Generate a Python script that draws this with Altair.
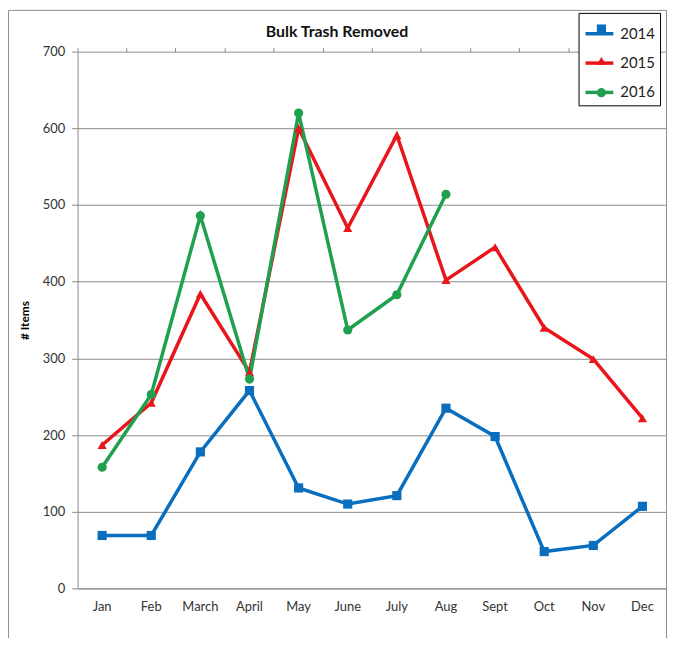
import altair as alt
import pandas as pd

months = ["Jan", "Feb", "March", "April", "May", "June", "July", "Aug", "Sept", "Oct", "Nov", "Dec"]
v2014 = [69, 69, 178, 258, 131, 110, 121, 235, 198, 48, 56, 107]
v2015 = [187, 242, 384, 282, 600, 470, 591, 402, 445, 340, 299, 222]
v2016 = [158, 253, 486, 273, 620, 337, 383, 514]
years = ["2014", "2015", "2016"]
colors = ["#0A6EBE", "#E8161B", "#1FA04E"]
shapes = ["square", "triangle-up", "circle"]
title_text = "Bulk Trash Removed"

rows = []
for yr, vals in zip(years, [v2014, v2015, v2016]):
    for m, v in zip(months, vals):
        rows.append({"month": m, "year": yr, "value": v})
df = pd.DataFrame(rows)

FONT = "Lato"
W, H = 593, 540

xscale = alt.Scale(type="band", domain=months, paddingInner=0, paddingOuter=0)
yenc = alt.Y("value:Q", scale=alt.Scale(domain=[0, 700]),
             axis=alt.Axis(values=[0, 100, 200, 300, 400, 500, 600, 700], title="# Items",
                           titleFontWeight="bold", titleFontSize=12, titleX=-53, titleY=270,
                           titleAngle=270, titleAlign="center", titleBaseline="middle",
                           labelFontSize=13, labelColor="#333333", labelPadding=7,
                           tickSize=6, tickColor="#8a8a8a", domainColor="#8a8a8a",
                           gridColor="#8a8a8a", grid=True))
cscale = alt.Scale(domain=years, range=colors)

LX = 504
LY = -39
legend_common = dict(orient="none", title=None, labelFontSize=15,
                     labelFont=FONT, labelColor="#222222", labelOffset=5, padding=5)

lines = alt.Chart(df).mark_line(strokeWidth=3.5).encode(
    x=alt.X("month:N", scale=xscale, sort=months,
            axis=alt.Axis(title=None, labelAngle=0, labelFontSize=13, labelColor="#333333",
                          labelPadding=12, ticks=False, domainColor="#8a8a8a", grid=False)),
    y=yenc,
    color=alt.Color("year:N", scale=cscale,
                    legend=alt.Legend(legendX=LX, legendY=LY, symbolType="stroke",
                                      symbolSize=784, symbolStrokeWidth=3.5, rowPadding=5.5,
                                      strokeColor="#000000", fillColor="#ffffff",
                                      **legend_common)),
)

pleg = dict(legendX=LX + 10.5, legendY=LY + 3.75, symbolSize=85, symbolStrokeWidth=0,
            labelOpacity=0, labelExpr="''", rowPadding=16, **legend_common)
pts = alt.Chart(df).mark_point(filled=True, opacity=1, size=85).encode(
    x=alt.X("month:N", scale=xscale, sort=months,
            axis=alt.Axis(title=None, labels=False, domain=False, ticks=True, tickSize=4,
                          tickColor="#8a8a8a", bandPosition=0, grid=False)),
    y=yenc,
    color=alt.Color("year:N", scale=cscale, legend=alt.Legend(**pleg)),
    shape=alt.Shape("year:N", scale=alt.Scale(domain=years, range=shapes),
                    legend=alt.Legend(**pleg)),
)

one = alt.Data(values=[{"t": title_text}])
fc = "#8f8f8f"
frame_l = alt.Chart(one).mark_rule(color=fc, strokeWidth=1).encode(
    x=alt.value(-69.5), y=alt.value(-41.5), y2=alt.value(H + 50))
frame_t = alt.Chart(one).mark_rule(color=fc, strokeWidth=1).encode(
    x=alt.value(-69.5), x2=alt.value(W - 0.5), y=alt.value(-41.5))
frame_r = alt.Chart(one).mark_rule(color=fc, strokeWidth=1).encode(
    x=alt.value(W - 0.5), y=alt.value(-41.5), y2=alt.value(H + 50))
title = alt.Chart(one).mark_text(font=FONT, fontSize=16, fontWeight="bold", color="#111111",
                                 align="center", baseline="middle").encode(
    text="t:N", x=alt.value(261), y=alt.value(-20))

chart = alt.layer(lines, pts, frame_l, frame_t, frame_r, title).resolve_legend(
    color="independent", shape="independent"
).resolve_axis(x="independent").properties(
    width=W, height=H,
    autosize=alt.AutoSizeParams(type="none"),
    padding={"left": 70, "top": 42, "right": 0, "bottom": 50},
).configure(font=FONT).configure_view(stroke=None).configure_axis(
    labelFont=FONT, titleFont=FONT
)

chart.save("out.html", embed_options={"renderer": "svg", "actions": False})
